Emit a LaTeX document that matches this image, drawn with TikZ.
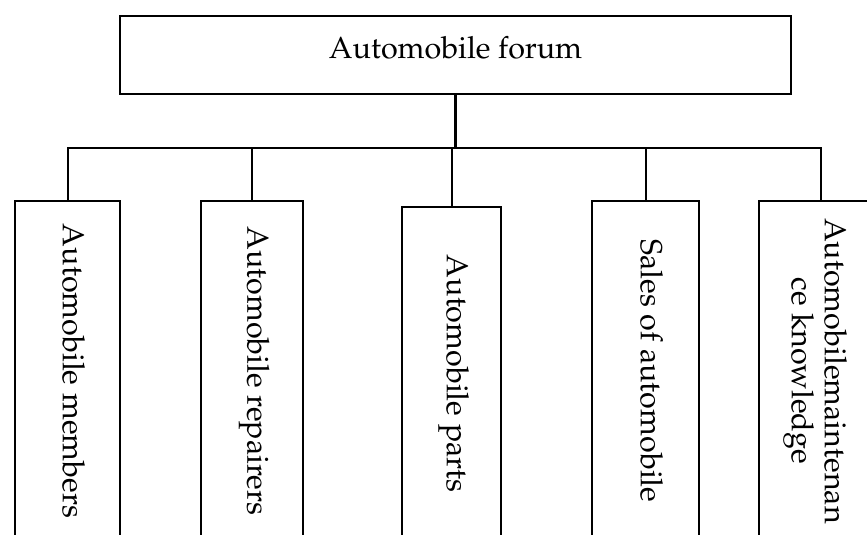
\documentclass[tikz,border=0pt]{standalone}
\usepackage[T1]{fontenc}
\usepackage{mathpazo}
\usepackage{graphicx}
% text running top to bottom, with a fixed strut so every label sits alike
\newcommand\downtext[1]{\rotatebox{-90}{\rule[-13pt]{0pt}{35pt}#1}}
\begin{document}
\begin{tikzpicture}[x=1pt,y=-1pt,
  box/.style={draw, line width=2pt, inner sep=0pt, anchor=north west},
  link/.style={line width=2pt},
  trunk/.style={line width=2.8pt},
  lbl/.style={font=\fontsize{30.5}{33}\selectfont}]
\useasboundingbox (0,0) rectangle (867,535);
\clip (0,0) rectangle (867,535);

% root of the tree
\node[box, lbl, minimum width=671pt, minimum height=78pt,
      text height=22pt, text depth=14pt] (root) at (119,15) {Automobile forum};

% the five branches, running off the lower edge
\node[box, lbl, minimum width=105pt, minimum height=340pt] (m1) at (14,200)
  {\downtext{Automobile members}};
\node[box, lbl, minimum width=102pt, minimum height=340pt] (m2) at (200,200)
  {\downtext{Automobile repairers}};
\node[box, lbl, minimum width=99pt, minimum height=334.5pt] (m3) at (401,205.5)
  {\downtext{Automobile parts}};
\node[box, lbl, minimum width=107pt, minimum height=340pt] (m4) at (591,200)
  {\downtext{Sales of automobile}};
\node[box, lbl, minimum width=112pt, minimum height=340pt] (m5) at (758,200)
  {\rotatebox{-90}{\begin{tabular}{@{}c@{}}Automobilemaintenan\\ce knowledge\end{tabular}}};

% connectors
\coordinate (bus) at (0,148);
\coordinate (d5) at ([xshift=6pt]m5.north);
\draw[trunk] (root.south) -- (root.south |- bus);
\draw[link] (m1.north) |- (d5 |- bus) -- (d5);
\foreach \n in {m2,m3,m4}
  \draw[link] (\n.north) -- (\n.north |- bus);
\end{tikzpicture}
\end{document}
